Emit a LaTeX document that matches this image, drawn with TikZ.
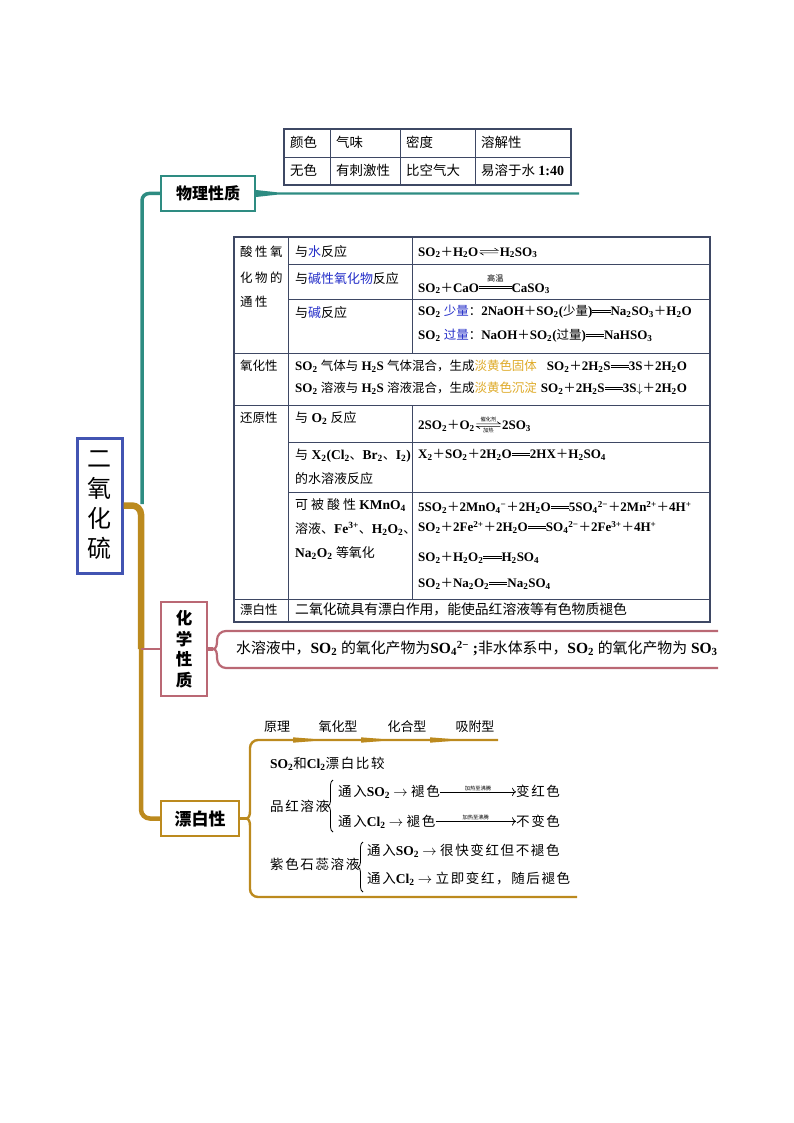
\documentclass[tikz,border=0pt]{standalone}
\usepackage{amsmath}
\usepackage{fontspec}
\setmainfont{Liberation Serif}
\newfontfamily\cjk[Scale=0.96,BoldFont={Noto Sans CJK SC}]{Noto Sans CJK SC}
\newfontfamily\cjkls[LetterSpace=12,BoldFont={Noto Sans CJK SC}]{Noto Sans CJK SC}
\newfontfamily\cjkbold{Noto Sans CJK SC}
\usetikzlibrary{decorations.pathreplacing,arrows.meta}

\definecolor{tealc}{RGB}{46,140,130}
\definecolor{bluec}{RGB}{66,84,178}
\definecolor{brownc}{RGB}{188,138,30}
\definecolor{pinkc}{RGB}{186,104,116}
\definecolor{tabc}{RGB}{62,72,100}
\definecolor{goldc}{RGB}{222,170,40}
\definecolor{bluet}{RGB}{35,45,200}

% automatic CJK / Latin font switching
\newcount\cjkcnt
\newXeTeXintercharclass\cjkcls
\newcommand\setcjkrange[2]{\cjkcnt=#1\relax
  \loop\XeTeXcharclass\cjkcnt=\cjkcls\advance\cjkcnt by 1\relax
  \ifnum\cjkcnt<#2\relax\repeat}
\setcjkrange{"4E00}{"A000}
\setcjkrange{"3000}{"3040}
\setcjkrange{"FF00}{"FFF0}
\def\cjkcurrent{\cjk}
\XeTeXinterchartoks 0 \cjkcls = {\cjkcurrent}
\XeTeXinterchartoks 4095 \cjkcls = {\cjkcurrent}
\XeTeXinterchartoks \cjkcls 0 = {\rmfamily}
\XeTeXinterchartoks \cjkcls 4095 = {\rmfamily}
\XeTeXinterchartokenstate=1

\newcommand\usebold{\def\cjkcurrent{\cjkbold}}
\newcommand\usels{\def\cjkcurrent{\cjkls}}
\newcommand\ssb[1]{\textsubscript{#1}}
\newcommand\ssp[1]{\textsuperscript{#1}}
\newcommand\eqs[1][1.4em]{\makebox[#1]{\rlap{\rule[0.2em]{#1}{0.07em}}\rule[0.38em]{#1}{0.07em}}}
\newcommand\condeq[2][2.5em]{\begin{tabular}[b]{@{}c@{}}{\fontsize{8.5}{8.5}\selectfont #2}\\[-4pt]\eqs[#1]\end{tabular}}

\begin{document}
\begin{tikzpicture}[x=1pt,y=-1pt,
 tx/.style={anchor=base west,inner sep=0pt,font=\fontsize{13}{15}\selectfont\bfseries},
 txb/.style={anchor=base west,inner sep=0pt,font=\fontsize{13.5}{15}\selectfont\bfseries},
 tt/.style={anchor=base west,inner sep=0pt,font=\fontsize{14}{16}\selectfont\bfseries},
 bl/.style={anchor=base west,inner sep=0pt,font=\usels\fontsize{13.5}{15}\selectfont\bfseries},
 hd/.style={inner sep=0pt,font=\fontsize{13.5}{15}\selectfont\bfseries},
 gridl/.style={tabc,line width=0.9},
 tframe/.style={tabc,line width=1.5},
 bracel/.style={decorate,decoration={brace,amplitude=5pt},line width=0.8},
 harp/.style={line width=0.6},
 tiny6/.style={inner sep=0.8pt,font=\fontsize{5.5}{6}\selectfont},
]
\useasboundingbox (0,0) rectangle (794,1123);

% ---- main boxes
\node[draw=bluec,line width=3,fill=white,minimum width=45,minimum height=135,inner sep=0,align=center,font=\fontsize{25}{30}\selectfont] (center) at (99.5,505.5) {二\\氧\\化\\硫};
\node[draw=tealc,line width=2,fill=white,minimum width=94,minimum height=35,inner sep=0,font=\usebold\fontsize{16}{18}\selectfont\bfseries] (phys) at (208,193.5) {物理性质};
\node[draw=pinkc,line width=2,fill=white,minimum width=46,minimum height=94,inner sep=0,align=center,font=\usebold\fontsize{16.5}{20.5}\selectfont\bfseries] (chem) at (184,649) {化\\学\\性\\质};
\node[draw=brownc,line width=2,fill=white,minimum width=78,minimum height=35,inner sep=0,font=\usebold\fontsize{17}{19}\selectfont\bfseries] (bleach) at (200,818.5) {漂白性};

% ---- trunks
\coordinate (jteal) at (142,504);
\coordinate (jchem) at (141,649);
\draw[tealc,line width=3.5,rounded corners=7] (jteal) |- (phys.west);
\draw[brownc,line width=6.5,rounded corners=9] (center.east) -| (jchem);
\draw[brownc,line width=4.5,rounded corners=9] (jchem) |- (bleach.west);
\draw[pinkc,line width=2.5] (jchem) -- (chem.west);

% ---- physical property line
\coordinate (physend) at (579,193.5);
\fill[tealc] ([yshift=3.5]phys.east) -- ([xshift=22,yshift=1.1]phys.east) -- ([yshift=1.1]physend) -- ([yshift=-1.1]physend) -- ([xshift=22,yshift=-1.1]phys.east) -- ([yshift=-3.5]phys.east) -- cycle;

% ---- top table
\draw[tframe] (284,129) rectangle (571,185);
\draw[gridl] (284,157) -- (571,157);
\foreach \x in {330,400,475} \draw[gridl] (\x,129) -- (\x,185);
\node[tt] (t11) at (290,148) {颜色};
\node[tt] (t12) at (336,148) {气味};
\node[tt] (t13) at (406,148) {密度};
\node[tt] (t14) at (481,148) {溶解性};
\node[tt] (t21) at (290,176) {无色};
\node[tt] (t22) at (336,176) {有刺激性};
\node[tt] (t23) at (406,176) {比空气大};
\node[tt] (t24) at (481,176) {易溶于水 1:40};

% ---- big table
\draw[tframe] (234,237) rectangle (710,622);
\draw[gridl] (234,353) -- (710,353) (234,405) -- (710,405) (234,599) -- (710,599);
\draw[gridl] (288,264) -- (710,264) (288,299) -- (710,299) (288,442) -- (710,442) (288,492) -- (710,492);
\draw[gridl] (288,237) -- (288,622) (412,237) -- (412,353) (412,405) -- (412,599);

\node[tx] (ac1) at (240,256.5) {酸\hspace{2.5pt}性\hspace{2.5pt}氧};
\node[tx] (ac2) at (240,282.5) {化\hspace{2.5pt}物\hspace{2.5pt}的};
\node[tx] (ac3) at (240,306.5) {通\hspace{2.5pt}性};
\node[txb] (w1) at (295,256) {与\textcolor{bluet}{水}反应};
\node[txb] (w2) at (295,283) {与\textcolor{bluet}{碱性氧化物}反应};
\node[txb] (w3) at (295,317.5) {与\textcolor{bluet}{碱}反应};

\node[tx] (e1a) at (418,256) {SO\ssb{2}＋H\ssb{2}O};
\node[tx,anchor=base west] (e1b) at ([xshift=21]e1a.base east) {H\ssb{2}SO\ssb{3}};
\draw[harp] ([xshift=1.5,yshift=5.6]e1a.base east) -- ([xshift=-1.5,yshift=5.6]e1b.base west) -- ++(-3.5,-2.3);
\draw[harp] ([xshift=-1.5,yshift=3.2]e1b.base west) -- ([xshift=1.5,yshift=3.2]e1a.base east) -- ++(3.5,2.3);

\node[tx] (e2) at (418,292) {SO\ssb{2}＋CaO\condeq{高温}CaSO\ssb{3}};
\node[tx] (e3) at (418,315.5) {SO\ssb{2} \textcolor{bluet}{少量}：2NaOH＋SO\ssb{2}(少量)\eqs Na\ssb{2}SO\ssb{3}＋H\ssb{2}O};
\node[tx] (e4) at (418,339.5) {SO\ssb{2} \textcolor{bluet}{过量}：NaOH＋SO\ssb{2}(过量)\eqs NaHSO\ssb{3}};

\node[tx] (ox0) at (240,370.5) {氧化性};
\node[tx] (ox1) at (295,370.5) {SO\ssb{2} 气体与 H\ssb{2}S 气体混合，生成\textcolor{goldc}{淡黄色固体}\hspace{10pt}SO\ssb{2}＋2H\ssb{2}S\eqs 3S＋2H\ssb{2}O};
\node[tx] (ox2) at (295,392.5) {SO\ssb{2} 溶液与 H\ssb{2}S 溶液混合，生成\textcolor{goldc}{淡黄色沉淀}\hspace{4pt}SO\ssb{2}＋2H\ssb{2}S\eqs 3S$\downarrow$＋2H\ssb{2}O};

\node[tx] (rd0) at (240,422.5) {还原性};
\node[txb] (rd1) at (295,422.5) {与 O\ssb{2} 反应};
\node[tx] (rd1a) at (418,429.5) {2SO\ssb{2}＋O\ssb{2}};
\node[tx,anchor=base west] (rd1b) at ([xshift=27]rd1a.base east) {2SO\ssb{3}};
\draw[harp] ([xshift=1.5,yshift=5.6]rd1a.base east) -- node[tiny6,above=0.6pt] (rd1c) {催化剂} ([xshift=-1.5,yshift=5.6]rd1b.base west) -- ++(-3.5,-2.3);
\draw[harp] ([xshift=-1.5,yshift=3.2]rd1b.base west) -- node[tiny6,below=0.8pt] (rd1h) {加热} ([xshift=1.5,yshift=3.2]rd1a.base east) -- ++(3.5,2.3);

\node[txb] (rd2) at (295,459.5) {与 X\ssb{2}(Cl\ssb{2}、Br\ssb{2}、I\ssb{2})};
\node[txb] (rd2b) at (295,483.5) {的水溶液反应};
\node[tx] (rd2e) at (418,458.5) {X\ssb{2}＋SO\ssb{2}＋2H\ssb{2}O\eqs 2HX＋H\ssb{2}SO\ssb{4}};
\node[txb] (rd3) at (295,509.5) {可\hspace{3pt}被\hspace{3pt}酸\hspace{3pt}性 KMnO\ssb{4}};
\node[txb] (rd3b) at (295,533.5) {溶液、Fe\ssp{3+}、H\ssb{2}O\ssb{2}、};
\node[txb] (rd3c) at (295,557.5) {Na\ssb{2}O\ssb{2} 等氧化};
\node[tx] (rd3e1) at (418,511.5) {5SO\ssb{2}＋2MnO\ssb{4}\ssp{−}＋2H\ssb{2}O\eqs 5SO\ssb{4}\ssp{2−}＋2Mn\ssp{2+}＋4H\ssp{+}};
\node[tx] (rd3e2) at (418,531.5) {SO\ssb{2}＋2Fe\ssp{2+}＋2H\ssb{2}O\eqs SO\ssb{4}\ssp{2−}＋2Fe\ssp{3+}＋4H\ssp{+}};
\node[tx] (rd3e3) at (418,561.5) {SO\ssb{2}＋H\ssb{2}O\ssb{2}\eqs H\ssb{2}SO\ssb{4}};
\node[tx] (rd3e4) at (418,587.5) {SO\ssb{2}＋Na\ssb{2}O\ssb{2}\eqs Na\ssb{2}SO\ssb{4}};

\node[tx] (bp0) at (240,614.5) {漂白性};
\node[tx,font=\fontsize{14.4}{16}\selectfont\bfseries] (bp1) at (295,614.5) {二氧化硫具有漂白作用，能使品红溶液等有色物质褪色};

% ---- chemical property bracket
\coordinate (chemtip) at (213,649);
\draw[pinkc,line width=3.5] (chem.east) -- (chemtip);
\draw[pinkc,line width=2.2] (718,631) -- (226,631) to[out=180,in=90] (217,640) to[out=-90,in=0] (chemtip) to[out=0,in=90] (217,658) to[out=-90,in=180] (226,668) -- (718,668);
\node[anchor=base west,inner sep=0,font=\fontsize{15.5}{17}\selectfont\bfseries] (chemtxt) at (236,653.5) {水溶液中，SO\ssb{2} 的氧化产物为SO\ssb{4}\ssp{2−} ;非水体系中，SO\ssb{2} 的氧化产物为 SO\ssb{3}};

% ---- bleaching bracket
\coordinate (bltip) at (246,818.5);
\draw[brownc,line width=3.5] (bleach.east) -- (bltip);
\draw[brownc,line width=2.4] (498,740) -- (258,740) to[out=180,in=90] (250,748) -- (250,811) to[out=-90,in=0] (bltip) to[out=0,in=90] (250,826) -- (250,889) to[out=-90,in=180] (258,897) -- (577,897);
\foreach \x in {293,361,430} \fill[brownc] (\x,737.3) -- (\x+20,738.9) -- (\x+20,741.1) -- (\x,742.7) -- cycle;

\node[hd] (h1) at (277,727) {原理};
\node[hd] (h2) at (338,727) {氧化型};
\node[hd] (h3) at (407,727) {化合型};
\node[hd] (h4) at (475,727) {吸附型};

\node[bl] (b0) at (270,768) {SO\ssb{2}和Cl\ssb{2}漂白比较};
\node[bl] (pl) at (270,811) {品红溶液};
\draw[bracel] (333,832) -- (333,780);
\node[bl] (p1a) at (338,796.5) {通入SO\ssb{2} $\rightarrow$ 褪色};
\node[bl] (p1b) at (516,796.5) {变红色};
\draw[-{To[length=4pt]},line width=0.7] (p1a.east) -- node[above,inner sep=1pt,font=\fontsize{5.5}{6}\selectfont] (lab1) {加热至沸腾} (p1a.east -| p1b.west);
\node[bl] (p2a) at (338,826) {通入Cl\ssb{2} $\rightarrow$ 褪色};
\node[bl] (p2b) at (516,826) {不变色};
\draw[-{To[length=4pt]},line width=0.7] (p2a.east) -- node[above,inner sep=1pt,font=\fontsize{5.5}{6}\selectfont] (lab2) {加热至沸腾} (p2a.east -| p2b.west);
\node[bl] (sl) at (270,869) {紫色石蕊溶液};
\draw[bracel] (363,892) -- (363,842);
\node[bl] (s1) at (367,855.5) {通入SO\ssb{2} $\rightarrow$ 很快变红但不褪色};
\node[bl] (s2) at (367,883) {通入Cl\ssb{2} $\rightarrow$ 立即变红，随后褪色};
\end{tikzpicture}
\end{document}
